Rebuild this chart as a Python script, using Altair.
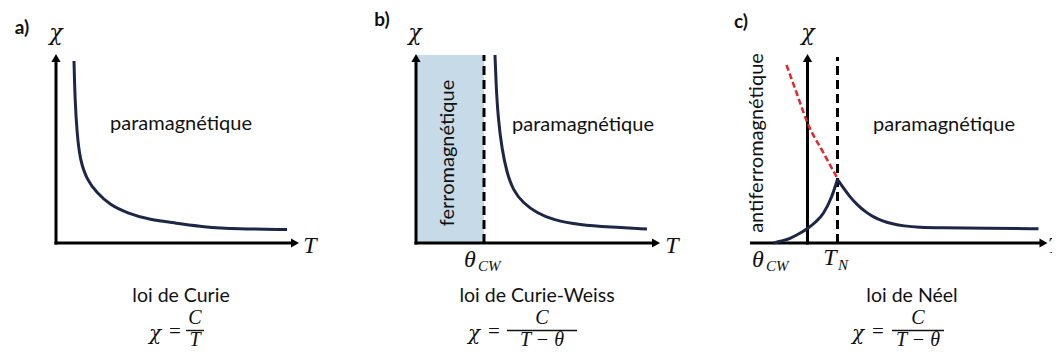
import altair as alt
import pandas as pd

# ---------------- data (schematic units: T to the right, chi upwards) ----------------
# a) Curie law
curie_T = [18, 19, 21, 24, 31, 41, 54, 71, 94, 120, 147, 181, 231]
curie_chi = [182, 143, 110, 83, 63, 50, 38, 30, 23, 20, 16, 14, 13.5]

# b) Curie-Weiss law
cw_T = [79, 80, 82, 86, 91, 97, 107, 121, 137, 164, 194, 231]
cw_chi = [188, 160, 126, 93, 70, 53, 40, 30, 23, 18, 16, 14]
theta_cw_b = 68

# c) Neel law
neel_low_T = [-34, -26, -17.5, -9, 0, 8, 16, 24, 30]
neel_low_chi = [0, 2, 4.7, 9, 14.5, 21, 30, 46, 63.5]
neel_high_T = [30, 36, 42.5, 50, 58, 66, 75, 85, 96, 112, 130, 180, 231]
neel_high_chi = [63.5, 55, 46, 38, 31, 26, 22, 19, 17, 15.7, 15.2, 14.7, 14.3]
extrap_T = [-21, -10.5, 0, 16, 30]
extrap_chi = [178, 149, 120, 90, 64.5]
T_N = 30

# texts
panel_tags = ["a)", "b)", "c)"]
law_names = ["loi de Curie", "loi de Curie-Weiss", "loi de Néel"]
numerators = ["C", "C", "C"]
denominators = ["T", "T − θ", "T − θ"]
phase_para = "paramagnétique"
phase_ferro = "ferromagnétique"
phase_afm = "antiferromagnétique"

# ---------------- layout ----------------
ORIGIN = {"a": 56, "b": 416, "c": 807.5}   # x of each panel's chi axis
W, H = 1044, 342
XS = alt.Scale(domain=[8, 8 + W], nice=False, zero=False)
YS = alt.Scale(domain=[243 - 8 - H, 243 - 8], nice=False, zero=False)

SANS = "Lato"
MATH = "Liberation Serif"
GREEK = "DejaVu Serif"
INK = "#111111"
CURVE = "#1c2748"


def X(p, t):
    return alt.XDatum(ORIGIN[p] + t, type="quantitative", scale=XS, axis=None)


def Y(c):
    return alt.YDatum(c, type="quantitative", scale=YS, axis=None)


def curve(p, ts, cs, color=CURVE, width=3, dash=None, interp="basis"):
    df = pd.DataFrame({"X": [ORIGIN[p] + t for t in ts], "chi": cs})
    kw = dict(color=color, strokeWidth=width, interpolate=interp)
    if dash:
        kw["strokeDash"] = dash
    return alt.Chart(df).mark_line(**kw).encode(
        x=alt.X("X:Q", scale=XS, axis=None),
        y=alt.Y("chi:Q", scale=YS, axis=None),
    )


def one():
    return pd.DataFrame({"k": [0]})


def rule(p, t1, c1, t2, c2, width=3, dash=None, color="black"):
    kw = dict(color=color, strokeWidth=width)
    if dash:
        kw["strokeDash"] = dash
    return alt.Chart(one()).mark_rule(**kw).encode(
        x=X(p, t1), y=Y(c1),
        x2=alt.X2Datum(ORIGIN[p] + t2), y2=alt.Y2Datum(c2),
    )


def arrow(p, t, c, shape):
    return alt.Chart(one()).mark_point(
        shape=shape, filled=True, size=85, color="black", opacity=1, strokeWidth=0
    ).encode(x=X(p, t), y=Y(c))


def text(p, t, c, s, size=20, font=SANS, italic=False, bold=False,
         align="center", angle=None, clip=False):
    kw = dict(fontSize=size, font=font, color=INK, align=align, baseline="middle")
    if italic:
        kw["fontStyle"] = "italic"
    if bold:
        kw["fontWeight"] = "bold"
    if angle is not None:
        kw["angle"] = angle
    if clip:
        kw["clip"] = True
    return alt.Chart(pd.DataFrame({"s": [s]})).mark_text(**kw).encode(
        x=X(p, t), y=Y(c), text="s:N"
    )


def chi_label(p, t, c):
    return text(p, t, c, "χ", size=22, font=GREEK, italic=True)


def axes(p, x_from, x_to):
    return [
        rule(p, x_from, 0, x_to, 0),
        arrow(p, x_to + 3, 0, "triangle-right"),
        rule(p, 0, -1.5, 0, 183),
        arrow(p, 0, 185, "triangle-up"),
    ]


def formula(p, eq_right, frac_c, bar_half, num, den):
    return [
        text(p, eq_right - 29, -91, "χ", size=20, font=GREEK, italic=True),
        text(p, eq_right - 9, -89, "=", size=21, font=MATH),
        text(p, frac_c, -75, num, size=20, font=MATH, italic=True),
        rule(p, frac_c - bar_half, -87.5, frac_c + bar_half, -87.5, width=1.4, color=INK),
        text(p, frac_c, -97, den, size=20, font=MATH, italic=True),
    ]


layers = []

# ---- panel a ----
layers += axes("a", -1.5, 236)
layers += [
    curve("a", curie_T, curie_chi),
    text("a", -34, 215, panel_tags[0], size=19, bold=True),
    chi_label("a", 0, 210),
    text("a", 254, -3, "T", size=24, font=MATH, italic=True),
    text("a", 125, 119, phase_para),
    text("a", 125, -53, law_names[0], size=19.5),
]
layers += formula("a", 128, 139, 9, numerators[0], denominators[0])

# ---- panel b ----
layers.append(
    alt.Chart(one()).mark_rect(color="#c6dae7").encode(
        x=X("b", 0), x2=alt.X2Datum(ORIGIN["b"] + theta_cw_b),
        y=Y(0), y2=alt.Y2Datum(188),
    )
)
layers += axes("b", -1.5, 237)
layers += [
    rule("b", theta_cw_b, 0, theta_cw_b, 188, dash=[9, 5]),
    curve("b", cw_T, cw_chi),
    text("b", -34, 223, panel_tags[1], size=19, bold=True),
    chi_label("b", -1, 210),
    text("b", 256, -3, "T", size=24, font=MATH, italic=True),
    text("b", 32, 90, phase_ferro, angle=270),
    text("b", 167, 118, phase_para),
    text("b", 54, -17, "θ", size=24, font=MATH, italic=True),
    text("b", 62, -23, "CW", size=15, font=MATH, italic=True, align="left"),
    text("b", 121, -53, law_names[1], size=19.5),
]
layers += formula("b", 87, 126, 35, numerators[1], denominators[1])

# ---- panel c ----
layers += axes("c", -57.5, 233)
layers += [
    rule("c", T_N, 0, T_N, 186, dash=[9, 5]),
    curve("c", extrap_T, extrap_chi, color="#e3262b", width=2.5, dash=[6, 3], interp="monotone"),
    curve("c", neel_low_T, neel_low_chi, interp="monotone"),
    curve("c", neel_high_T, neel_high_chi),
    text("c", -66.5, 221, panel_tags[2], size=19, bold=True),
    chi_label("c", 0.5, 210),
    text("c", 247, -3, "T", size=24, font=MATH, italic=True, clip=True),
    text("c", -50.5, 100, phase_afm, angle=270),
    text("c", 136.5, 118, phase_para),
    text("c", -49.5, -17, "θ", size=24, font=MATH, italic=True),
    text("c", -41.5, -23, "CW", size=15, font=MATH, italic=True, align="left"),
    text("c", 22.5, -15, "T", size=24, font=MATH, italic=True),
    text("c", 30.5, -22, "N", size=15, font=MATH, italic=True, align="left"),
    text("c", 104.5, -53, law_names[2], size=19.5),
]
layers += formula("c", 79.5, 110.5, 26, numerators[2], denominators[2])

chart = (
    alt.layer(*layers)
    .properties(width=W, height=H, padding=0,
                autosize=alt.AutoSizeParams(type="none"),
                background="white")
    .configure_view(stroke=None)
)

chart.save("out.html", embed_options={"renderer": "svg", "actions": False})
